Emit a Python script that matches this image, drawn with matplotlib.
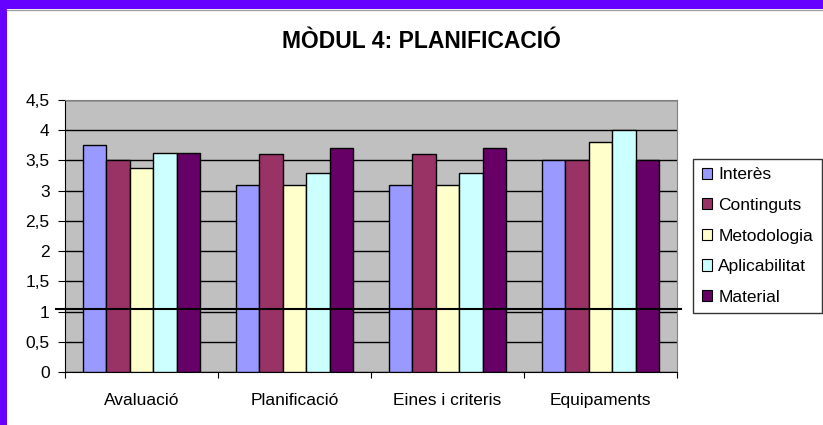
import matplotlib
matplotlib.use("Agg")
import matplotlib.pyplot as plt
import numpy as np
from matplotlib.patches import Patch, Rectangle

plt.rcParams["font.family"] = ["Liberation Sans", "DejaVu Sans"]

title = "MÒDUL 4: PLANIFICACIÓ"
categories = ["Avaluació", "Planificació", "Eines i criteris", "Equipaments"]
series = ["Interès", "Continguts", "Metodologia", "Aplicabilitat", "Material"]
colors = ["#9999FF", "#993366", "#FFFFCC", "#CCFFFF", "#660066"]

interes       = [3.75, 3.1, 3.1, 3.5]
continguts    = [3.5, 3.6, 3.6, 3.5]
metodologia   = [3.375, 3.1, 3.1, 3.8]
aplicabilitat = [3.625, 3.3, 3.3, 4.0]
material      = [3.625, 3.7, 3.7, 3.5]
values = [interes, continguts, metodologia, aplicabilitat, material]

ref_line = 1.05
y_ticks = np.arange(0, 4.51, 0.5)
y_labels = ["0", "0,5", "1", "1,5", "2", "2,5", "3", "3,5", "4", "4,5"]

W, H = 823, 425
fig = plt.figure(figsize=(W / 100, H / 100), dpi=100)
fig.patch.set_facecolor("white")

# purple frame on top and left
fig.patches.append(Rectangle((0, 1 - 9 / H), 1, 9 / H, transform=fig.transFigure,
                             facecolor="#6600FF", edgecolor="none", zorder=0))
fig.patches.append(Rectangle((0, 0), 7 / W, 1, transform=fig.transFigure,
                             facecolor="#6600FF", edgecolor="none", zorder=0))
fig.lines.append(plt.Line2D([7 / W, 1], [1 - 10 / H, 1 - 10 / H], transform=fig.transFigure,
                            color="#A0A0A0", linewidth=1))

ax = fig.add_axes([65 / W, 53 / H, 612 / W, 272 / H])
ax.set_facecolor("#C0C0C0")

n = len(series)
width = 1 / 6.5
x = np.arange(len(categories))
for i, (name, vals, c) in enumerate(zip(series, values, colors)):
    offs = (i - (n - 1) / 2) * width
    ax.bar(x + offs, vals, width, color=c, edgecolor="black", linewidth=1,
           label=name, zorder=3)

ax.set_xlim(-0.5, len(categories) - 0.5)
ax.set_ylim(0, 4.5)
ax.set_yticks(y_ticks)
ax.set_yticklabels(y_labels, fontsize=12.5)
ax.yaxis.grid(True, color="black", linewidth=1, zorder=1)
ax.set_axisbelow(True)

ax.set_xticks(np.arange(-0.5, len(categories), 1.0))
ax.set_xticklabels([])
ax.set_xticks(x, minor=True)
ax.set_xticklabels(categories, minor=True, fontsize=12.5)
ax.tick_params(axis="x", which="minor", length=0, pad=15)
ax.tick_params(axis="x", which="major", length=4, direction="out", color="black")
ax.tick_params(axis="y", length=5, direction="out", color="black", pad=6)

for s in ["top", "right"]:
    ax.spines[s].set_color("#808080")
for s in ["left", "bottom"]:
    ax.spines[s].set_color("black")

# reference line across the plot
ax.plot([-9 / 612, 616 / 612], [ref_line, ref_line], color="black", linewidth=1.5,
        transform=ax.get_yaxis_transform(), clip_on=False, zorder=5)

fig.text(0.5 + 10 / W, 1 - 48 / H, title, ha="center", va="baseline", fontsize=16.5,
         fontweight="bold")

handles = [Patch(facecolor=c, edgecolor="black", linewidth=0.8) for c in colors]
leg = fig.legend(handles, series, loc="center left", bbox_to_anchor=(693 / W, 1 - 236 / H),
                 fontsize=12.5, frameon=True, fancybox=False, handlelength=0.6,
                 handleheight=0.6, handletextpad=0.35, labelspacing=0.9,
                 borderpad=0.5, borderaxespad=0)
leg.get_frame().set_edgecolor("black")
leg.get_frame().set_linewidth(1)

fig.savefig("out.png", dpi=100)
